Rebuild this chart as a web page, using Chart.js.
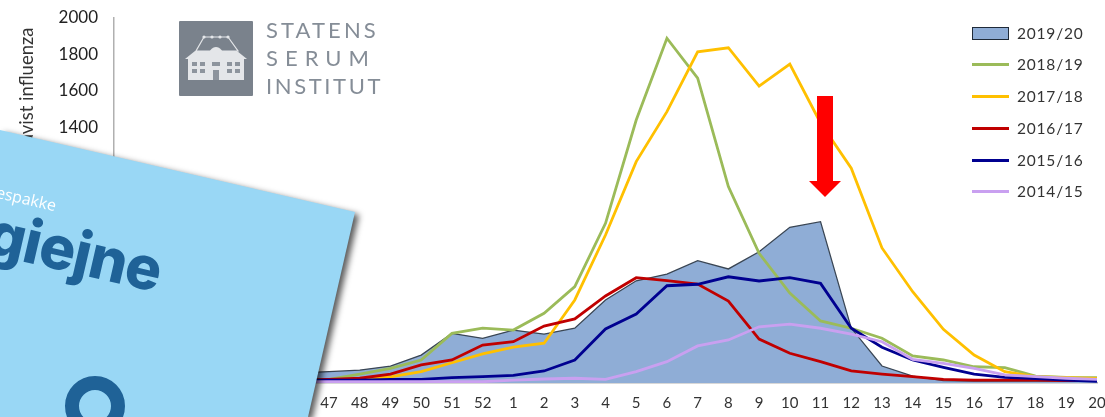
<!DOCTYPE html>
<html lang="da">
<head>
<meta charset="utf-8">
<title>Influenza</title>
<script src="https://cdn.jsdelivr.net/npm/chart.js@4"></script>
<style>
  html, body { margin: 0; padding: 0; background: #fff; overflow: hidden; }
  #wrap { position: relative; width: 1105px; height: 417px; overflow: hidden; font-family: Lato, sans-serif; }
  #myChart { position: absolute; left: 0; top: 0; filter: blur(.4px); }
  #legend { position: absolute; left: 972px; top: 17px; filter: blur(.3px); }
  .row { position: absolute; left: 0; height: 20px; width: 125px; font-size: 15.5px; line-height: 20px; color: #333; letter-spacing: .8px; }
  .row i { position: absolute; left: 0; top: 9px; width: 37px; height: 3px; }
  .row i.box { top: 4px; width: 35px; height: 11px; border: 1px solid #1f2a38; }
  .row span { position: absolute; left: 45px; }
  #logo { position: absolute; left: 179px; top: 21px; width: 74px; height: 75px; background: #7a828c; border-radius: 1px; }
  .sti { position: absolute; left: 266px; font-size: 22px; line-height: 26px; color: #858d97; font-weight: 400; }
  #arrow { position: absolute; left: 805px; top: 90px; }
  #shadow { position: absolute; left: 0; top: 0; width: 1105px; height: 417px; filter: drop-shadow(4px 3px 3px rgba(0,0,0,.65)); }
  #card { position: absolute; left: 0; top: 0; width: 1105px; height: 417px; background: #99d7f5;
          clip-path: polygon(0 130px, 355px 212px, 308px 417px, 0 417px); overflow: hidden; }
  #card div { position: absolute; transform-origin: 0 0; white-space: nowrap; }
  #t1 { left: -1px; top: 181px; font-size: 16px; color: #fff; transform: rotate(13deg); font-family: "Open Sans", sans-serif; }
  #t2 { left: -3px; top: 196px; font-size: 60px; font-weight: 800; color: #1f6297; transform: rotate(13deg); font-family: Inter, sans-serif; letter-spacing: -1px; }
  #ring { left: 65px; top: 376px; width: 32px; height: 32px; border: 14px solid #1f6297; border-radius: 50%; }
</style>
</head>
<body>
<div id="wrap">
  <canvas id="myChart" width="1105" height="417"></canvas>

  <div id="logo">
    <svg width="74" height="75" viewBox="0 0 74 75">
      <g fill="#e4e6e9">
        <path d="M25 16h24l10 14h-42z" fill="none" stroke="#e4e6e9" stroke-width="1.2"/>
        <circle cx="25" cy="16" r="1.6"/><circle cx="33" cy="16" r="1.6"/><circle cx="41" cy="16" r="1.6"/><circle cx="49" cy="16" r="1.6"/>
        <path d="M6 38l10-8h42l10 8z"/>
        <path d="M9 38h56v21h-56z"/>
        <path d="M29 38c0-8 4-12 8-12s8 4 8 12z"/>
      </g>
      <g fill="#8d949d">
        <path d="M13 41h5v4h-5zM21 41h5v4h-5zM48 41h5v4h-5zM56 41h5v4h-5zM13 48h5v4h-5zM21 48h5v4h-5zM48 48h5v4h-5zM56 48h5v4h-5zM33 41h8v4h-8zM34 49h6v10h-6z"/>
      </g>
    </svg>
  </div>
  <div class="sti" style="top:17px;letter-spacing:3.1px">STATENS</div>
  <div class="sti" style="top:45px;letter-spacing:7px">SERUM</div>
  <div class="sti" style="top:73px;letter-spacing:2.6px">INSTITUT</div>

  <div id="legend"></div>

  <svg id="arrow" width="40" height="110" viewBox="0 0 40 110">
    <path d="M12 6h16v85h8l-16 16l-16-16h8z" fill="#ff0000"/>
  </svg>

  <div id="shadow">
    <div id="card">
      <div id="t1">espakke</div>
      <div id="t2">giejne</div>
      <div id="ring"></div>
    </div>
  </div>
</div>

<script>
// uger: 40-52 og 1-20
const uger = ['40','41','42','43','44','45','46','47','48','49','50','51','52',
    '1','2','3','4','5','6','7','8','9','10','11','12','13','14','15','16','17','18','19','20'];

const yTicks = [2000, 1800, 1600, 1400, 1200, 1000, 800, 600, 400, 200, 0];

// uge 40-46 ligger bag kortet, de er skonnet
const s2019 = [20,25,30,35,40,48,55,62,71,93,153,272,245,290,268,300,455,560,597,670,625,719,853,884,301,93,38,13,11,10,10,10,10];
const s2018 = [5,6,8,9,10,13,16,20,49,80,126,272,301,290,382,528,875,1441,1889,1670,1076,711,493,340,300,245,148,126,89,84,38,31,29];
const s2017 = [5,6,7,8,10,12,14,16,22,33,62,111,159,196,218,455,811,1213,1487,1815,1837,1627,1748,1425,1177,740,500,294,153,62,35,29,25];
const s2016 = [6,7,8,10,12,14,17,20,26,49,99,126,208,226,312,351,477,577,561,542,449,241,163,117,66,49,35,20,16,16,16,13,13];
const s2015 = [6,7,8,9,10,12,14,16,16,20,20,29,35,42,66,126,296,378,533,541,582,559,577,546,300,196,126,86,49,31,24,16,9];
const s2014 = [7,7,7,7,7,7,7,7,7,7,7,7,7,16,22,26,20,62,117,203,236,308,323,300,268,226,130,108,80,44,35,26,20];

const navne = ['2019/20', '2018/19', '2017/18', '2016/17', '2015/16', '2014/15'];
const farver = ['#8fadd6', '#9bbb59', '#ffc000', '#c00000', '#000090', '#c9a0f0'];
const serier = [s2019, s2018, s2017, s2016, s2015, s2014];

const datasets = serier.map((values, i) => ({
    label: navne[i],
    data: values,
    borderColor: i === 0 ? '#3a4654' : farver[i],
    backgroundColor: farver[i],
    borderWidth: i === 0 ? 1.3 : 2.8,
    fill: i === 0 ? 'start' : false,
    pointRadius: 0,
    tension: 0,
    order: serier.length - i // arealet skal ligge bagerst
}));

new Chart(document.getElementById('myChart').getContext('2d'), {
    type: 'line',
    data: { labels: uger, datasets: datasets },
    options: {
        responsive: false,
        animation: false,
        layout: { padding: { top: 18, right: 8, left: 0, bottom: 0 } },
        plugins: { legend: { display: false }, tooltip: { enabled: false } },
        scales: {
            x: {
                offset: false,
                grid: { display: false, drawTicks: true, tickLength: 5, tickColor: '#a6a6a6' },
                border: { color: '#b0b0b0', width: 1.5 },
                ticks: { autoSkip: false, maxRotation: 0, minRotation: 0, padding: 6, color: '#333', font: { family: 'Lato', size: 15 } },
                afterFit: s => { s.height = 34; s.paddingLeft = 0; s.paddingRight = 0; }
            },
            y: {
                min: 0,
                max: 2000,
                afterBuildTicks: s => { s.ticks = yTicks.map(v => ({ value: v })); },
                grid: { display: false, drawTicks: true, tickLength: 6, tickColor: '#a6a6a6' },
                border: { color: '#b0b0b0', width: 1.5 },
                ticks: { padding: 10, color: '#222', font: { family: 'Lato', size: 17 }, callback: v => String(v) },
                title: {
                    display: true,
                    text: 'Antal påvist influenza\u00a0\u00a0',
                    align: 'end',
                    color: '#333',
                    font: { family: 'Lato', size: 18.5 },
                    padding: { top: 16, bottom: 0 }
                },
                afterFit: s => { s.width = 114; s.paddingTop = 0; s.paddingBottom = 0; }
            }
        }
    }
});

// legend laves i html ud fra de samme navne og farver
const legendTop = [6, 37, 69, 101, 133, 164];
const legend = document.getElementById('legend');
navne.forEach((navn, i) => {
    const row = document.createElement('div');
    row.className = 'row';
    row.style.top = legendTop[i] + 'px';
    const swatch = document.createElement('i');
    swatch.style.background = farver[i];
    if (i === 0) swatch.className = 'box';
    const txt = document.createElement('span');
    txt.textContent = navn;
    row.append(swatch, txt);
    legend.appendChild(row);
});
</script>
</body>
</html>
